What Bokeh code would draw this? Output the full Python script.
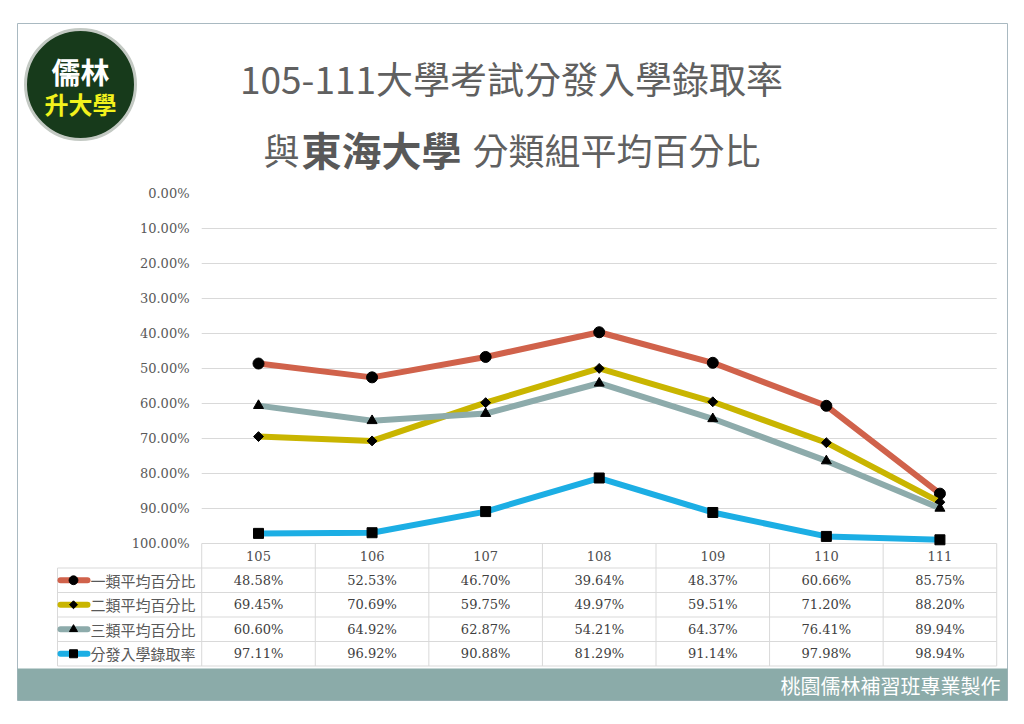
from bokeh.plotting import figure
from bokeh.models import Range1d
from bokeh.core.properties import value
from bokeh.embed import file_html
from bokeh.resources import INLINE

# ---------------- data ----------------
years = ["105", "106", "107", "108", "109", "110", "111"]
series_names = ["一類平均百分比", "二類平均百分比", "三類平均百分比", "分發入學錄取率"]
s1 = [48.58, 52.53, 46.70, 39.64, 48.37, 60.66, 85.75]
s2 = [69.45, 70.69, 59.75, 49.97, 59.51, 71.20, 88.20]
s3 = [60.60, 64.92, 62.87, 54.21, 64.37, 76.41, 89.94]
s4 = [97.11, 96.92, 90.88, 81.29, 91.14, 97.98, 98.94]
series_values = [s1, s2, s3, s4]
y_ticks = [0, 10, 20, 30, 40, 50, 60, 70, 80, 90, 100]
title1 = "105-111大學考試分發入學錄取率"
title2_parts = ["與", "東海大學", "分類組平均百分比"]
footer_text = "桃園儒林補習班專業製作"
logo_top = "儒林"
logo_bottom = "升大學"

# ---------------- styles ----------------
series_colors = ["#D0624B", "#C9B500", "#8DABAB", "#1CAEE4"]
series_markers = ["circle", "square", "triangle", "square"]
marker_sizes = [11, 7, 10, 10]
marker_angles = [0, 0.785398, 0, 0]
CJK = value("Noto Sans CJK TC")
SERIF = value("DejaVu Serif")
TITLE_COL = "#606060"

W, H = 1008, 708
X0_PX, X_STEP = 258.0, 795.0 / 7.0   # pixel of first category, column width
Y0_PX, Y_SCALE = 193.0, 3.5          # pixel of 0 %, pixels per percent


def PX(px):
    return (px - X0_PX) / X_STEP


def PY(py):
    return (py - Y0_PX) / Y_SCALE


p = figure(width=W, height=H,
           x_range=Range1d(PX(0), PX(W)),
           y_range=Range1d(PY(H), PY(0)),
           output_backend="svg", toolbar_location=None,
           min_border=0, x_axis_type=None, y_axis_type=None)
p.outline_line_color = None
p.background_fill_color = "white"
p.border_fill_color = "white"

xs = list(range(len(years)))
n = len(years)
grid_col = "#D9D9D9"

# outer box
p.quad(left=PX(17), right=PX(1007), top=PY(23), bottom=PY(700),
       fill_color=None, line_color="#A9B9C1", line_width=1)

# footer bar
p.quad(left=PX(17), right=PX(1007), top=PY(668), bottom=PY(700),
       fill_color="#8BABA9", line_color=None)
p.text(x=[PX(1000)], y=[PY(685)], text=[footer_text], text_font=CJK,
       text_font_size="20px", text_color="white", text_align="right",
       text_baseline="middle")

# gridlines
p.segment(x0=[-0.5] * (len(y_ticks) - 1), x1=[n - 0.5] * (len(y_ticks) - 1),
          y0=y_ticks[1:], y1=y_ticks[1:], line_color=grid_col, line_width=1)

# y tick labels
p.text(x=[PX(189)] * len(y_ticks), y=y_ticks,
       text=[f"{t:.2f}%" for t in y_ticks], text_font=SERIF,
       text_font_size="13px", text_color="#595959", text_align="right",
       text_baseline="middle")

# table
row_h = 7
top_t = y_ticks[-1]
row_edges = [top_t + row_h * k for k in range(len(series_names) + 2)]
p.segment(x0=[-0.5 + k for k in range(n + 1)], x1=[-0.5 + k for k in range(n + 1)],
          y0=[row_edges[0]] * (n + 1), y1=[row_edges[-1]] * (n + 1),
          line_color=grid_col, line_width=1)
p.segment(x0=[PX(57)] * (len(row_edges) - 1), x1=[n - 0.5] * (len(row_edges) - 1),
          y0=row_edges[1:], y1=row_edges[1:], line_color=grid_col, line_width=1)
p.segment(x0=[PX(57)], x1=[PX(57)], y0=[row_edges[1]], y1=[row_edges[-1]],
          line_color=grid_col, line_width=1)

# header years
p.text(x=xs, y=[row_edges[0] + row_h / 2] * n, text=years, text_font=SERIF,
       text_font_size="13px", text_color="#505050", text_align="center",
       text_baseline="middle")

# series
for i, (name, vals, col, mk, ms, ang) in enumerate(zip(series_names, series_values,
                                                      series_colors, series_markers,
                                                      marker_sizes, marker_angles)):
    p.line(xs, vals, line_color=col, line_width=6, line_join="round")
    p.scatter(xs, vals, marker=mk, size=ms, angle=ang, fill_color="black",
              line_color="black")
    yc = row_edges[i + 1] + row_h / 2
    p.text(x=xs, y=[yc] * n, text=[f"{v:.2f}%" for v in vals], text_font=SERIF,
           text_font_size="13px", text_color="#404040", text_align="center",
           text_baseline="middle")
    # legend key
    p.line([PX(60), PX(87)], [yc, yc], line_color=col, line_width=6, line_cap="round")
    p.scatter([PX(73)], [yc], marker=mk, size=ms * 0.8, angle=ang,
              fill_color="black", line_color="black")
    p.text(x=[PX(90)], y=[yc], text=[name], text_font=CJK, text_font_size="15px",
           text_color="#595959", text_align="left", text_baseline="middle")

# logo
p.scatter([PX(80)], [PY(84)], marker="circle", size=110, fill_color="#173A1B",
          line_color="#C3C9C3", line_width=3)
p.text(x=[PX(80)], y=[PY(70)], text=[logo_top], text_font=CJK, text_font_size="29px",
       text_font_style="bold", text_color="white", text_align="center",
       text_baseline="middle")
p.text(x=[PX(80)], y=[PY(103)], text=[logo_bottom], text_font=CJK,
       text_font_size="24px", text_font_style="bold", text_color="#F2F21C",
       text_align="center", text_baseline="middle")

# titles
p.text(x=[PX(511)], y=[PY(77)], text=[title1], text_font=CJK, text_font_size="37px",
       text_color=TITLE_COL, text_align="center", text_baseline="middle")
p.text(x=[PX(263)], y=[PY(148)], text=[title2_parts[0]], text_font=CJK,
       text_font_size="36px", text_color=TITLE_COL, text_align="left",
       text_baseline="middle")
p.text(x=[PX(301)], y=[PY(148)], text=[title2_parts[1]], text_font=CJK,
       text_font_size="40px", text_font_style="bold", text_color="#595959",
       text_align="left", text_baseline="middle")
p.text(x=[PX(472)], y=[PY(148)], text=[title2_parts[2]], text_font=CJK,
       text_font_size="36px", text_color=TITLE_COL, text_align="left",
       text_baseline="middle")

open("out.html", "w").write(file_html(p, INLINE))
